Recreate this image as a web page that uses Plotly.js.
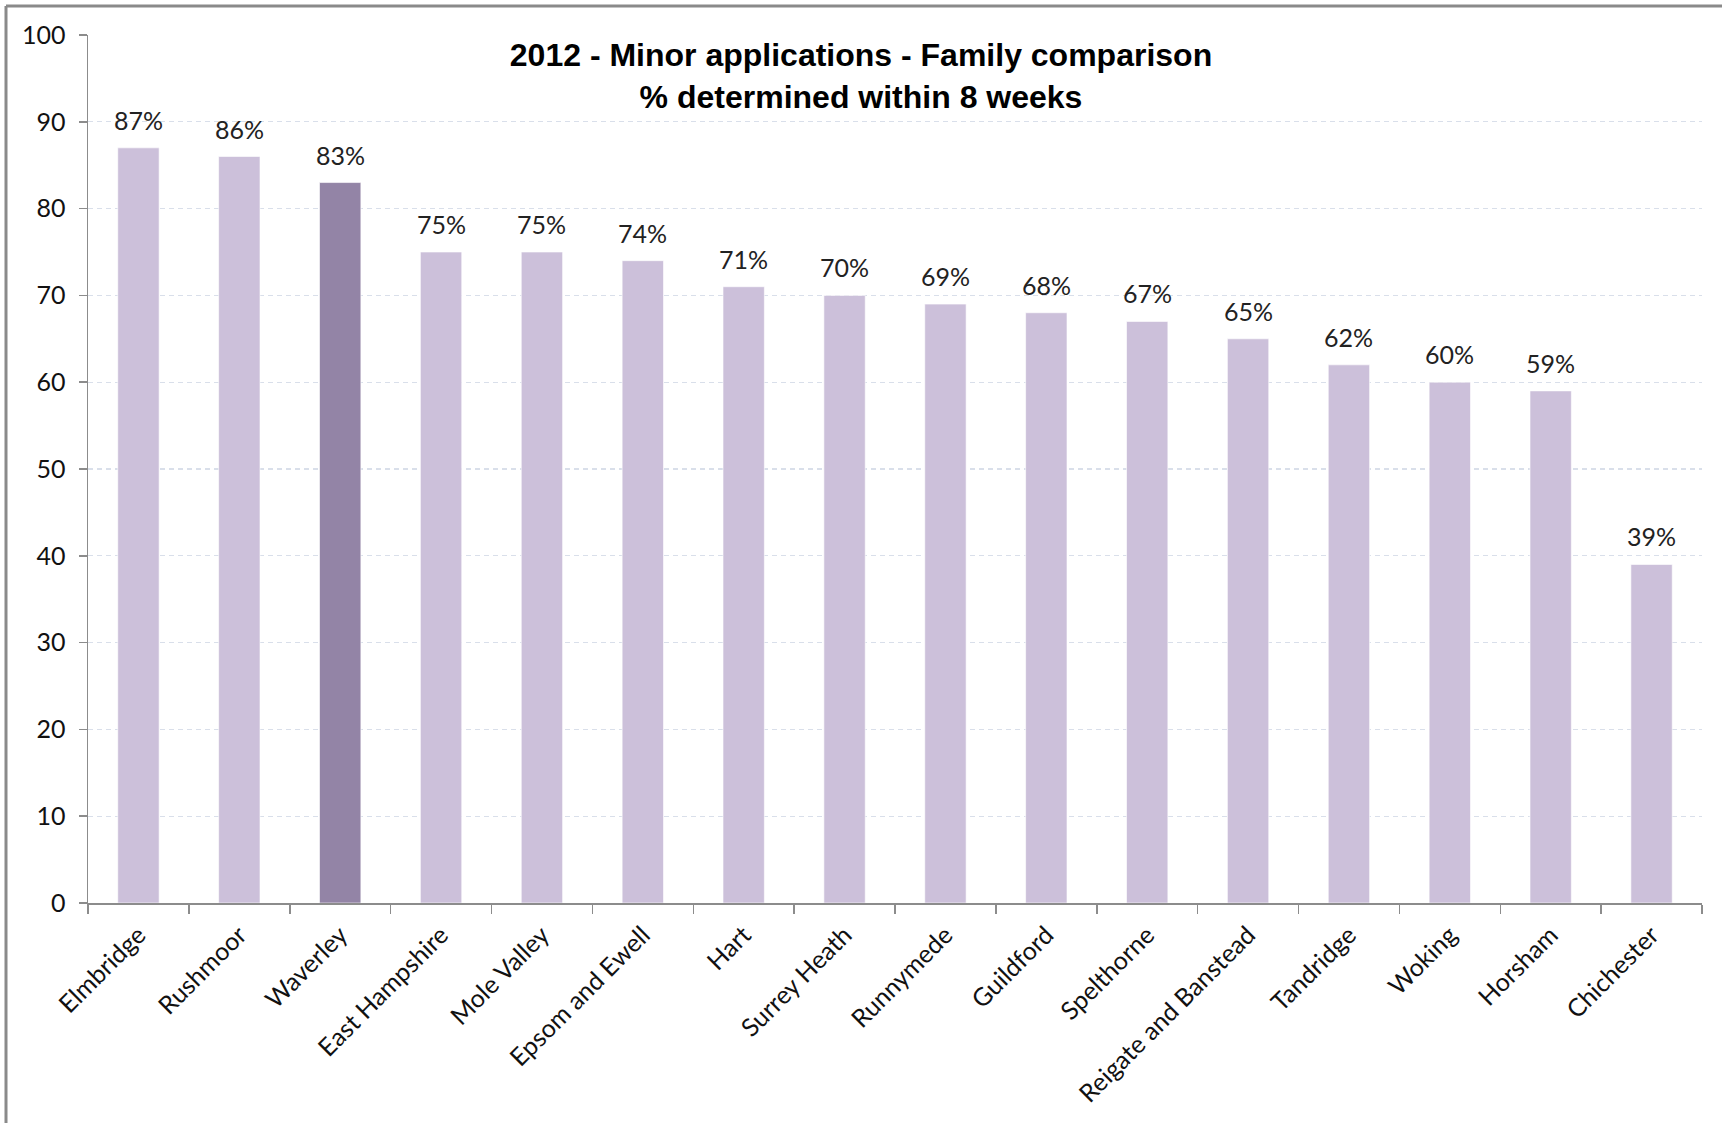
<!DOCTYPE html>
<html>
<head>
<meta charset="utf-8">
<script src="https://cdn.plot.ly/plotly-3.0.1.min.js"></script>
<style>html,body{margin:0;padding:0;background:#fff;}#chart{width:1722px;height:1123px;}</style>
</head>
<body>
<div id="chart"></div>
<script>
const categories = ["Elmbridge","Rushmoor","Waverley","East Hampshire","Mole Valley","Epsom and Ewell","Hart","Surrey Heath","Runnymede","Guildford","Spelthorne","Reigate and Banstead","Tandridge","Woking","Horsham","Chichester"];
const values = [87,86,83,75,75,74,71,70,69,68,67,65,62,60,59,39];
const highlight = "Waverley";
const yTicks = [0,10,20,30,40,50,60,70,80,90,100];

const LIGHT = "#ccc0da";
const DARK = "#9384a6";
const colors = categories.map(c => c === highlight ? DARK : LIGHT);

const W = 1722, H = 1123;
const M = {l: 88, r: 20, t: 35, b: 220};
const pw = W - M.l - M.r, ph = H - M.t - M.b;

const trace = {
  type: "bar",
  x: categories,
  y: values,
  marker: {color: colors, line: {color: "rgba(255,255,255,0.6)", width: 1}},
  hoverinfo: "x+y"
};

const annotations = categories.map((c, i) => ({
  x: c, y: values[i], xref: "x", yref: "y",
  text: values[i] + "%", showarrow: false,
  yanchor: "bottom", yshift: 11,
  font: {family: "Lato, 'Open Sans', sans-serif", size: 25, color: "#222"}
}));

const layout = {
  width: W, height: H,
  margin: M,
  paper_bgcolor: "#fff", plot_bgcolor: "#fff",
  showlegend: false,
  bargap: 0.59,
  title: {
    text: "<b>2012 - Minor applications - Family comparison<br>% determined within 8 weeks</b>",
    font: {family: "'Liberation Sans', Arial, sans-serif", size: 32, color: "#000"},
    x: 0.5, xref: "container", xanchor: "center",
    y: 1 - 66 / H, yref: "container", yanchor: "middle"
  },
  xaxis: {
    type: "category",
    showline: true, linecolor: "#8c8c8c", linewidth: 1.5,
    ticks: "outside", ticklen: 9, tickcolor: "#8c8c8c", tickwidth: 1.5,
    tickson: "boundaries",
    tickangle: -45,
    ticklabelstandoff: 6,
    tickfont: {family: "Lato, 'Open Sans', sans-serif", size: 25, color: "#111"},
    showgrid: false, zeroline: false,
    fixedrange: true
  },
  yaxis: {
    range: [0, 100],
    tickvals: yTicks,
    ticktext: yTicks.map(String),
    showline: true, linecolor: "#8c8c8c", linewidth: 1.5,
    ticks: "outside", ticklen: 8, tickcolor: "#8c8c8c", tickwidth: 1.5,
    ticklabelstandoff: 8,
    tickfont: {family: "Lato, 'Open Sans', sans-serif", size: 25, color: "#111"},
    showgrid: true, gridcolor: "#d9dfea", gridwidth: 1.2, griddash: "5px,4px",
    zeroline: false,
    fixedrange: true
  },
  annotations: annotations,
  shapes: [
    {type: "line", xref: "paper", yref: "paper",
     x0: (6 - M.l) / pw, x1: (W + 10 - M.l) / pw,
     y0: 1 + (M.t - 6) / ph, y1: 1 + (M.t - 6) / ph,
     line: {color: "#8a8a8a", width: 3}},
    {type: "line", xref: "paper", yref: "paper",
     x0: (6 - M.l) / pw, x1: (6 - M.l) / pw,
     y0: 1 + (M.t - 6) / ph, y1: -(M.b + 10) / ph,
     line: {color: "#8a8a8a", width: 3}}
  ]
};

Plotly.newPlot("chart", [trace], layout, {displayModeBar: false, staticPlot: true});
</script>
</body>
</html>
